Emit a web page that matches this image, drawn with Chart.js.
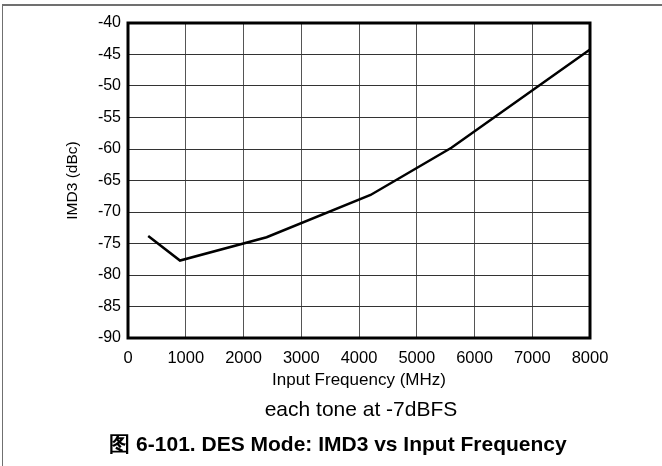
<!DOCTYPE html>
<html><head><meta charset="utf-8">
<script src="https://cdn.jsdelivr.net/npm/chart.js@4.4.1/dist/chart.umd.min.js"></script>
<style>
html,body{margin:0;padding:0;background:#fff;}
#wrap{position:relative;width:662px;height:466px;overflow:hidden;background:#fff;}
#frame{position:absolute;left:2px;top:4px;right:-10px;bottom:-10px;border-top:2px solid #707070;border-left:1px solid #707070;pointer-events:none;}
canvas{position:absolute;left:0;top:0;}
</style></head><body>
<div id="wrap"><canvas id="c" width="662" height="466"></canvas><div id="frame"></div></div>
<script>
const freqMHz = [350, 900, 2400, 4200, 5600, 8000];
const imd3dBc = [-73.8, -77.7, -74.0, -67.3, -59.8, -44.2];
const xTitle = 'Input Frequency (MHz)';
const yTitle = 'IMD3 (dBc)';
const noteText = 'each tone at -7dBFS';
const captionText = '图 6-101. DES Mode: IMD3 vs Input Frequency';
const xMin = 0, xMax = 8000, xStep = 1000;
const yMin = -90, yMax = -40, yStep = 5;

const FONT = '"Liberation Sans", Arial, sans-serif';

const captionPlugin = {
  id: 'captions',
  afterDraw(chart) {
    const {ctx, chartArea} = chart;
    ctx.save();
    ctx.fillStyle = '#000';
    ctx.textAlign = 'center';
    ctx.textBaseline = 'alphabetic';
    ctx.font = '21px ' + FONT;
    ctx.fillText(noteText, (chartArea.left + chartArea.right) / 2 + 2, 416);
    ctx.font = 'bold 21px ' + FONT;
    ctx.fillText(captionText, 338, 451);
    ctx.restore();
  }
};

const borderPlugin = {
  id: 'plotBorder',
  afterDatasetsDraw(chart) {
    const {ctx, chartArea: a} = chart;
    ctx.save();
    ctx.strokeStyle = '#000';
    ctx.lineWidth = 3;
    ctx.strokeRect(a.left, a.top, a.right - a.left, a.bottom - a.top);
    ctx.restore();
  }
};

new Chart(document.getElementById('c'), {
  type: 'line',
  data: {
    datasets: [{
      data: freqMHz.map((f, i) => ({x: f, y: imd3dBc[i]})),
      borderColor: '#000',
      borderWidth: 2.5,
      pointRadius: 0,
      tension: 0,
      fill: false
    }]
  },
  options: {
    responsive: false,
    animation: false,
    devicePixelRatio: 1,
    layout: {padding: {left: 56, top: 23, right: 72, bottom: 75}},
    plugins: {legend: {display: false}, tooltip: {enabled: false}},
    scales: {
      x: {
        type: 'linear', min: xMin, max: xMax,
        afterBuildTicks(s) { s.ticks = []; for (let v = xMin; v <= xMax; v += xStep) s.ticks.push({value: v}); },
        afterFit(s) { s.height = 53; },
        ticks: {color: '#000', font: {family: FONT, size: 16.5}, padding: 11, maxRotation: 0, callback: v => String(v)},
        grid: {color: '#555', lineWidth: 1, drawTicks: false},
        border: {display: false},
        title: {display: true, text: xTitle, color: '#000', font: {family: FONT, size: 17}, padding: {top: 0, bottom: 0}}
      },
      y: {
        type: 'linear', min: yMin, max: yMax,
        afterBuildTicks(s) { s.ticks = []; for (let v = yMin; v <= yMax; v += yStep) s.ticks.push({value: v}); },
        afterFit(s) { s.width = 72; },
        ticks: {color: '#000', font: {family: FONT, size: 16}, padding: 7, callback: v => String(v)},
        grid: {color: '#333', lineWidth: 1, drawTicks: false},
        border: {display: false},
        title: {display: true, text: yTitle, color: '#000', font: {family: FONT, size: 15.5}, padding: {top: 7, bottom: 0}}
      }
    }
  },
  plugins: [borderPlugin, captionPlugin]
});
</script>
</body></html>
